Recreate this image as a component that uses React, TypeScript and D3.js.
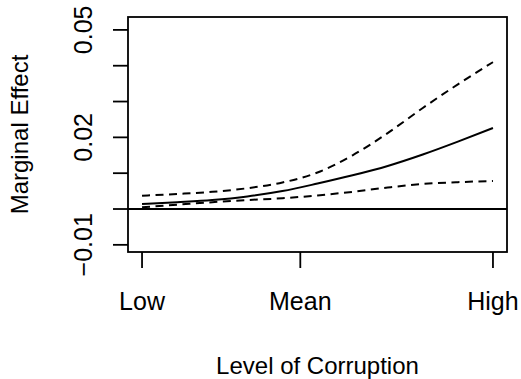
import React from "react";
import * as d3 from "d3";

// Corruption level on a 0 (Low) .. 1 (High) scale
const corruption = [0, 0.1, 0.2, 0.3, 0.4, 0.5, 0.6, 0.7, 0.8, 0.9, 1.0];
// Estimated marginal effect and its 95% confidence bounds
const effect = [0.0014, 0.0019, 0.0025, 0.0035, 0.005, 0.0071, 0.0094, 0.012, 0.0152, 0.0188, 0.0226];
const upper = [0.0037, 0.0042, 0.0048, 0.0058, 0.0074, 0.0102, 0.015, 0.0212, 0.0282, 0.0348, 0.041];
const lower = [0.0005, 0.0012, 0.0019, 0.0025, 0.003, 0.0038, 0.0048, 0.006, 0.007, 0.0075, 0.0078];

const xTickValues = [0, 0.451, 1];
const xTickLabels = ["Low", "Mean", "High"];
const yTickValues = [-0.01, 0, 0.01, 0.02, 0.03, 0.04, 0.05];
const yLabelled = [-0.01, 0.02, 0.05];

const W = 521;
const H = 379;
const box = { left: 128, right: 507, top: 17, bottom: 252 };
const font = "'Liberation Sans', Arial, Helvetica, sans-serif";

export default function App() {
  const x = d3.scaleLinear().domain([-0.04, 1.04]).range([box.left, box.right]);
  const y = d3.scaleLinear().domain([-0.012, 0.0536]).range([box.bottom, box.top]);

  const line = (vals: number[]) =>
    d3
      .line<number>()
      .x((_, i) => x(corruption[i]))
      .y((v) => y(v))
      .curve(d3.curveMonotoneX)(vals) || "";

  const tickLen = 15;

  return (
    <svg
      width={W}
      height={H}
      style={{ position: "absolute", left: 0, top: 0, background: "#fff" }}
      fontFamily={font}
    >
      <rect x={0} y={0} width={W} height={H} fill="#fff" />
      <defs>
        <clipPath id="plotArea">
          <rect x={box.left} y={box.top} width={box.right - box.left} height={box.bottom - box.top} />
        </clipPath>
      </defs>

      {/* zero reference line */}
      <line
        x1={box.left}
        x2={box.right}
        y1={y(0)}
        y2={y(0)}
        stroke="#000"
        strokeWidth={1.8}
      />

      <g clipPath="url(#plotArea)" fill="none" stroke="#000">
        <path d={line(effect)} strokeWidth={2} />
        <path d={line(upper)} strokeWidth={2} strokeDasharray="8,5.5" />
        <path d={line(lower)} strokeWidth={2} strokeDasharray="8,5.5" />
      </g>

      {/* plot frame */}
      <rect
        x={box.left}
        y={box.top}
        width={box.right - box.left}
        height={box.bottom - box.top}
        fill="none"
        stroke="#000"
        strokeWidth={1.8}
      />

      {/* y axis */}
      <g>
        {yTickValues.map((v) => (
          <line
            key={v}
            x1={box.left - tickLen}
            x2={box.left}
            y1={y(v)}
            y2={y(v)}
            stroke="#000"
            strokeWidth={1.8}
          />
        ))}
        {yLabelled.map((v) => (
          <text
            key={v}
            transform={`translate(${92},${y(v)}) rotate(-90)`}
            textAnchor="middle"
            fontSize={25}
            fill="#000"
          >
            {v < 0 ? "\u2212" + Math.abs(v).toFixed(2) : v.toFixed(2)}
          </text>
        ))}
      </g>

      {/* x axis */}
      <g>
        {xTickValues.map((v, i) => (
          <g key={v}>
            <line
              x1={x(v)}
              x2={x(v)}
              y1={box.bottom}
              y2={box.bottom + 16}
              stroke="#000"
              strokeWidth={1.8}
            />
            <text x={x(v)} y={310} textAnchor="middle" fontSize={25} fill="#000">
              {xTickLabels[i]}
            </text>
          </g>
        ))}
      </g>

      <text
        x={(box.left + box.right) / 2}
        y={374}
        textAnchor="middle"
        fontSize={24}
        fill="#000"
      >
        Level of Corruption
      </text>
      <text
        transform={`translate(${28},${(box.top + box.bottom) / 2}) rotate(-90)`}
        textAnchor="middle"
        fontSize={24}
        fill="#000"
      >
        Marginal Effect
      </text>
    </svg>
  );
}
